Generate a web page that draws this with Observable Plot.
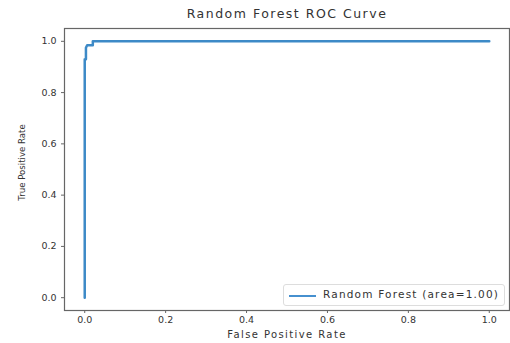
<!DOCTYPE html>
<html>
<head>
<meta charset="utf-8">
<script src="https://cdn.jsdelivr.net/npm/d3@7"></script>
<script src="https://cdn.jsdelivr.net/npm/@observablehq/plot@0.6"></script>
<style>
  html, body { margin: 0; padding: 0; background: #fff; }
  #wrap { position: relative; width: 510px; height: 343px; font-family: "DejaVu Sans", sans-serif; }
  #title { position: absolute; left: 64px; width: 446px; top: 6px; text-align: center; font-size: 12.5px; letter-spacing: 1.5px; color: #333; }
  #chart { position: absolute; left: 0; top: 27px; }
  #legend { position: absolute; left: 283px; top: 284px; width: 222px; height: 22px; border: 1px solid #ddd; border-radius: 3px; background: #fff; box-sizing: border-box; font-size: 10.5px; letter-spacing: 1.2px; color: #333; }
  #legend .sw { position: absolute; left: 5px; top: 10px; width: 27px; height: 0; border-top: 2px solid #4690cf; }
  #legend .lb { position: absolute; left: 39px; top: 3px; white-space: nowrap; }
</style>
</head>
<body>
<div id="wrap">
  <div id="title"></div>
  <div id="chart"></div>
  <div id="legend"><div class="sw"></div><div class="lb"></div></div>
</div>
<script>
const chartTitle = "Random Forest ROC Curve";
const xLabel = "False Positive Rate";
const yLabel = "True Positive Rate";
const seriesName = "Random Forest (area=1.00)";
const fpr = [0, 0, 0.003, 0.003, 0.006, 0.02, 0.02, 1];
const tpr = [0, 0.93, 0.93, 0.975, 0.985, 0.985, 1, 1];
const ticks = [0, 0.2, 0.4, 0.6, 0.8, 1.0];

document.getElementById("title").textContent = chartTitle;
document.querySelector("#legend .lb").textContent = seriesName;

const data = fpr.map((f, i) => ({fpr: f, tpr: tpr[i]}));

const plot = Plot.plot({
  width: 510,
  height: 316,
  marginTop: 1,
  marginBottom: 33,
  marginLeft: 64,
  marginRight: 1,
  style: {fontFamily: "DejaVu Sans, sans-serif", fontSize: "9.5px", color: "#333", background: "#fff"},
  x: {domain: [-0.05, 1.05]},
  y: {domain: [-0.05, 1.05]},
  marks: [
    Plot.frame({stroke: "#666", strokeWidth: 1.2}),
    Plot.axisX({ticks, tickFormat: d3.format(".1f"), tickSize: 3, tickPadding: 3, label: null, stroke: "#666"}),
    Plot.axisY({ticks, tickFormat: d3.format(".1f"), tickSize: 3, tickPadding: 5, label: null, stroke: "#666"}),
    Plot.text([xLabel], {frameAnchor: "bottom", dy: 27, fontSize: 10, fill: "#333"}),
    Plot.text([yLabel], {frameAnchor: "left", textAnchor: "middle", dx: -42, dy: -7, rotate: -90, fontSize: 8.6, fill: "#333"}),
    Plot.line(data, {x: "fpr", y: "tpr", stroke: "#3d8ac7", strokeWidth: 2.5, curve: "linear"})
  ]
});
plot.querySelectorAll("text").forEach(t => {
  if (t.textContent === xLabel) t.setAttribute("letter-spacing", "1.4");
});
document.getElementById("chart").appendChild(plot);
</script>
</body>
</html>
